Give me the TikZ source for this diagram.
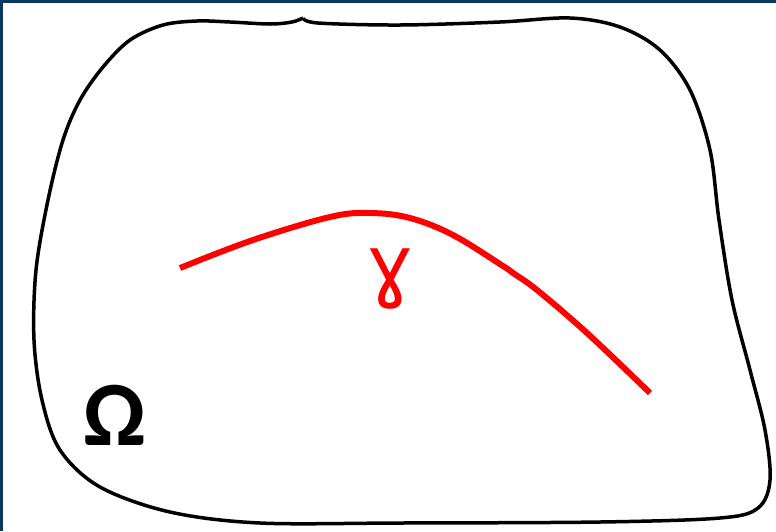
\documentclass[tikz,border=0pt]{standalone}
\usepackage{fontspec}
\setmainfont{Carlito}
\newfontfamily\gamfont{DejaVu Sans}
\definecolor{framecol}{RGB}{10,55,95}
\definecolor{gred}{RGB}{255,0,0}
\tikzset{
  outline/.style={draw=black, line width=3.5pt, line join=round},
  curvegamma/.style={draw=gred, line width=6pt, line cap=butt},
  bigsym/.style={inner sep=0pt, anchor=base}
}
\begin{document}
\begin{tikzpicture}[x=1pt,y=-1pt]
\useasboundingbox (0,0) rectangle (776,531);
\fill[white] (0,0) rectangle (776,531);
\fill[framecol] (0,0) rectangle (776,2.5);
\fill[framecol] (0,0) rectangle (2.5,531);
% domain outline
\draw[outline] plot[smooth, tension=0.55] coordinates {
 (303,18) (318,23) (400,25) (500,22) (570,18) (620,27) (660,50) (690,90)
 (710,150) (719,220) (732,300) (750,370) (765,430) (770,480) (758,508)
 (720,518) (600,522) (400,523) (260,523) (170,512) (100,487) (60,450)
 (42,400) (34,340) (36,270) (48,200) (63,140) (80,100) (103,67) (130,40)
 (163,25) (197,21) (230,22) (270,24) (292,22) (303,18)};
% red curve
\draw[curvegamma] plot[smooth, tension=0.6] coordinates {
 (180,268) (253,240) (330,217) (370,213) (410,218) (453,235) (503,266)
 (513,273) (537,290) (587,333) (650,393)};
\node[bigsym, text=gred, font=\gamfont\fontsize{80}{90}\selectfont] (gam) at (390,292) {ɣ};
\node[bigsym, font=\fontsize{92}{100}\selectfont\bfseries] (om) at (114.5,445) {Ω};
\end{tikzpicture}
\end{document}
